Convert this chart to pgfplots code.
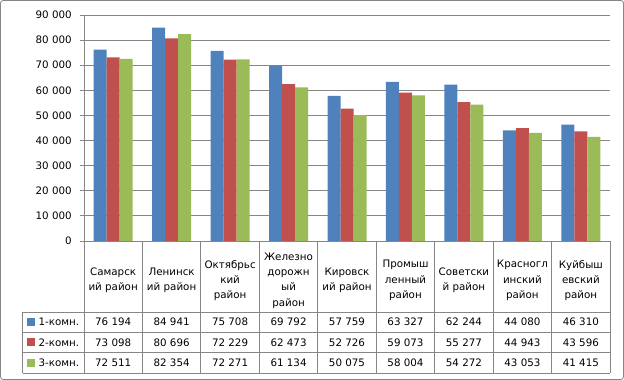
\documentclass[border=0pt]{standalone}
\usepackage{fontspec}
\setmainfont{DejaVu Sans}
\usepackage{pgfplots}
\pgfplotsset{compat=1.18}
\definecolor{s1}{HTML}{4F81BD}
\definecolor{s2}{HTML}{C0504D}
\definecolor{s3}{HTML}{9BBB59}
\definecolor{gridc}{HTML}{868686}
\begin{document}
\begin{tikzpicture}[x=1bp,y=1bp]
\draw[gridc, line width=0.8bp, rounded corners=3bp] (0.5,0.5) rectangle (623.5,379.5);
\begin{axis}[
  at={(84bp,139bp)}, anchor=south west,
  scale only axis, width=526bp, height=226bp,
  ymin=0, ymax=90000, xmin=-0.5, xmax=8.5,
  ybar=0pt, bar width=13bp,
  axis x line*=bottom, axis y line*=left,
  axis line style={-, gridc, line width=0.8bp},
  ytick={0,10000,20000,30000,40000,50000,60000,70000,80000,90000},
  yticklabels={0,10 000,20 000,30 000,40 000,50 000,60 000,70 000,80 000,90 000},
  scaled y ticks=false,
  xtick={0,1,2,3,4,5,6,7,8},
  xticklabels={{Самарск\\ий район},{Ленинск\\ий район},{Октябрьс\\кий\\район},{Железно\\дорожн\\ый\\район},{Кировск\\ий район},{Промыш\\ленный\\район},{Советски\\й район},{Красногл\\инский\\район},{Куйбыш\\евский\\район}},
  xticklabel style={anchor=center, yshift=-35.5bp, align=center, font=\fontsize{10.3bp}{15.3bp}\selectfont},
  x tick style={draw=none},
  y tick style={gridc, line width=0.8bp},
  tick align=outside, major tick length=4bp,
  yticklabel style={anchor=east, inner sep=0pt, xshift=-8bp, font=\fontsize{10.3bp}{12bp}\selectfont},
  ymajorgrids, grid style={gridc, line width=0.8bp},
  clip=false,
]
\addplot[fill=s1, draw=none] coordinates {(0,76194) (1,84941) (2,75708) (3,69792) (4,57759) (5,63327) (6,62244) (7,44080) (8,46310)};
\addplot[fill=s2, draw=none] coordinates {(0,73098) (1,80696) (2,72229) (3,62473) (4,52726) (5,59073) (6,55277) (7,44943) (8,43596)};
\addplot[fill=s3, draw=none] coordinates {(0,72511) (1,82354) (2,72271) (3,61134) (4,50075) (5,58004) (6,54272) (7,43053) (8,41415)};
\end{axis}
% data table grid
\foreach \k in {0,...,9} \draw[gridc, line width=0.8bp] ({84+\k*58.444},139) -- ({84+\k*58.444},7);
\foreach \yy in {68,48,27.5,7} \draw[gridc, line width=0.8bp] (22.7,\yy) -- (610,\yy);
\draw[gridc, line width=0.8bp] (22.7,68) -- (22.7,7);
% legend keys
\fill[s1] (27,54) rectangle (35,62);
\fill[s2] (27,33.75) rectangle (35,41.75);
\fill[s3] (27,13.25) rectangle (35,21.25);
\begin{scope}[every node/.style={font=\fontsize{10.3bp}{12bp}\selectfont, inner sep=0pt}]
\node[anchor=west] at (38.5,58) {1-комн.};
\node[anchor=west] at (38.5,37.75) {2-комн.};
\node[anchor=west] at (38.5,17.25) {3-комн.};
\foreach \v [count=\i from 0] in {76 194,84 941,75 708,69 792,57 759,63 327,62 244,44 080,46 310}
  \node at ({84+(\i+0.5)*58.444},58) {\v};
\foreach \v [count=\i from 0] in {73 098,80 696,72 229,62 473,52 726,59 073,55 277,44 943,43 596}
  \node at ({84+(\i+0.5)*58.444},37.75) {\v};
\foreach \v [count=\i from 0] in {72 511,82 354,72 271,61 134,50 075,58 004,54 272,43 053,41 415}
  \node at ({84+(\i+0.5)*58.444},17.25) {\v};
\end{scope}
\end{tikzpicture}
\end{document}
